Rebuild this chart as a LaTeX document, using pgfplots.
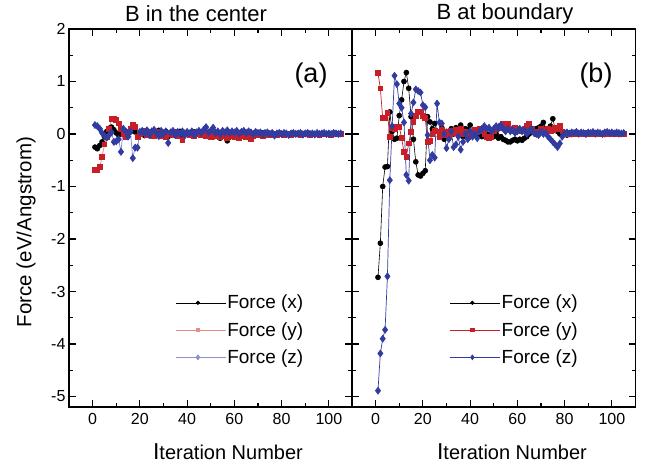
\documentclass[border=0pt]{standalone}
\usepackage{pgfplots}
\pgfplotsset{compat=1.18}
\usepackage{fontspec}
\setmainfont{Liberation Sans}
\definecolor{myred}{RGB}{200,30,40}
\definecolor{myblue}{RGB}{50,60,160}
\definecolor{palered}{RGB}{232,140,140}
\definecolor{paleblue}{RGB}{140,145,210}
\pgfplotsset{
  panel/.style={
    scale only axis, width=283.5pt, height=378pt, anchor=south west,
    xmin=-10, xmax=110, ymin=-5.2, ymax=2,
    xtick={0,20,...,100}, minor xtick={10,30,...,90},
    ytick={-5,...,2}, minor ytick={-4.5,-3.5,...,1.5},
    tick align=inside, major tick length=7pt, minor tick length=4pt,
    axis line style={line width=1.3pt},
    every tick/.style={line width=1.1pt, black},
    tick label style={font=\fontsize{16}{16}\selectfont},
    /pgf/number format/assume math mode=true,
    xticklabel style={yshift=-3pt},
    legend cell align=left,
    legend style={draw=none, fill=none, font=\fontsize{19}{19}\selectfont, anchor=north west,
      row sep=10pt, inner sep=0pt, nodes={inner sep=1pt}},
    legend image code/.code={
      \path (0pt,0pt) -- (50pt,0pt);
      \draw[#1, mark=none] (0pt,0pt) -- (15pt,0pt);
      \draw[#1, mark=none] (29pt,0pt) -- (44pt,0pt);
      \draw[#1, only marks, mark options={scale=0.7}] plot coordinates {(22pt,0pt)};
    },
  },
}
\begin{document}
\begin{tikzpicture}
\path[use as bounding box] (0pt,0pt) rectangle (649pt,473pt);
% ---------------- panel (a)
\begin{axis}[panel, at={(69pt,66pt)},
  ylabel={Force (eV/Angstrom)},
  ylabel style={font=\fontsize{20.5}{20.5}\selectfont, at={(-0.105,0.463)}},
  legend style={at={(0.375,0.299)}}]
\addplot[black, line width=0.6pt, mark=*, mark size=2.5pt] coordinates {
(1,-0.25)(2,-0.28)(3,-0.22)(4,-0.15)(5,-0.05)(6,0.05)(7,0.11)(8,0.13)(9,0.08)(10,0.02)
(11,-0.02)(12,0.05)(13,0.0)(14,-0.05)(15,0.02)(16,0.04)(17,0.08)(18,0.04)(19,0.0)(20,0.03)
(21,0.05)(22,-0.03)(23,0.06)(24,0.02)(25,-0.04)(26,0.05)(27,0.0)(28,0.07)(29,-0.02)(30,0.03)
(31,0.05)(32,-0.05)(33,0.02)(34,0.04)(35,-0.03)(36,0.02)(37,0.05)(38,-0.02)(39,0.03)(40,0.0)
(41,0.02)(42,-0.03)(43,0.04)(44,0.01)(45,0.05)(46,0.02)(47,-0.02)(48,0.03)(49,0.0)(50,-0.04)
(51,-0.06)(52,0.02)(53,-0.03)(54,-0.08)(55,0.02)(56,-0.05)(57,-0.13)(58,-0.06)(59,0.02)(60,-0.04)
(61,-0.02)(62,-0.05)(63,0.0)(64,0.03)(65,-0.02)(66,0.02)(67,0.0)(68,-0.03)(69,0.02)(70,0.01)
(71,-0.02)(72,0.02)(73,0.0)(74,-0.02)(75,0.01)(76,0.02)(77,-0.01)(78,0.0)(79,0.02)(80,-0.01)
(81,0.01)(82,0.0)(83,-0.01)(84,0.01)(85,0.0)(86,0.01)(87,-0.01)(88,0.0)(89,0.01)(90,0.0)
(91,-0.01)(92,0.01)(93,0.0)(94,0.01)(95,-0.01)(96,0.0)(97,0.01)(98,0.0)(99,-0.01)(100,0.01)
(101,0.0)(102,0.01)(103,0.0)(104,0.01)(105,0.0)};
\addlegendentry{Force (x)}
\addplot[palered, line width=0.8pt, mark=square*, mark size=2.4pt, mark options={myred, fill=myred}] coordinates {
(1,-0.69)(2,-0.68)(3,-0.63)(4,-0.44)(5,-0.20)(6,-0.05)(7,0.10)(8,0.28)(9,0.28)(10,0.27)
(11,0.20)(12,0.10)(13,0.0)(14,-0.05)(15,0.05)(16,0.10)(17,0.17)(18,0.14)(19,-0.05)(20,0.0)
(21,0.02)(22,0.06)(23,-0.02)(24,0.04)(25,0.0)(26,-0.04)(27,0.03)(28,0.05)(29,-0.03)(30,0.02)
(31,-0.05)(32,0.03)(33,0.0)(34,-0.02)(35,0.04)(36,-0.03)(37,0.02)(38,-0.11)(39,0.0)(40,0.03)
(41,-0.02)(42,0.02)(43,-0.04)(44,0.0)(45,0.03)(46,-0.02)(47,0.01)(48,-0.03)(49,0.02)(50,-0.05)
(51,0.0)(52,-0.04)(53,0.02)(54,-0.06)(55,-0.03)(56,0.0)(57,-0.07)(58,-0.03)(59,0.02)(60,-0.05)
(61,-0.02)(62,-0.08)(63,-0.03)(64,0.0)(65,-0.05)(66,-0.02)(67,-0.10)(68,-0.04)(69,0.0)(70,-0.02)
(71,0.01)(72,-0.03)(73,0.0)(74,-0.02)(75,0.01)(76,-0.01)(77,0.0)(78,-0.02)(79,0.01)(80,0.0)
(81,-0.01)(82,0.01)(83,0.0)(84,-0.01)(85,0.0)(86,0.01)(87,0.0)(88,-0.01)(89,0.0)(90,0.01)
(91,0.0)(92,-0.01)(93,0.0)(94,0.01)(95,0.0)(96,-0.01)(97,0.0)(98,0.0)(99,0.01)(100,0.0)
(101,-0.01)(102,0.0)(103,0.01)(104,0.0)(105,0.0)};
\addlegendentry{Force (y)}
\addplot[paleblue, line width=0.8pt, mark=diamond*, mark size=3.4pt, mark options={myblue, fill=myblue}] coordinates {
(1,0.17)(2,0.15)(3,0.10)(4,0.02)(5,-0.03)(6,-0.07)(7,-0.02)(8,0.03)(9,-0.15)(10,-0.14)
(11,-0.10)(12,-0.34)(13,0.10)(14,0.05)(15,-0.05)(16,0.05)(17,-0.46)(18,-0.26)(19,-0.26)(20,0.04)
(21,0.06)(22,0.02)(23,0.07)(24,-0.02)(25,0.05)(26,0.08)(27,0.02)(28,-0.04)(29,0.06)(30,0.0)
(31,0.05)(32,-0.17)(33,0.03)(34,0.06)(35,-0.02)(36,0.04)(37,0.0)(38,0.05)(39,-0.03)(40,0.04)
(41,0.01)(42,0.05)(43,-0.02)(44,0.03)(45,0.06)(46,0.02)(47,0.08)(48,0.13)(49,0.03)(50,0.06)
(51,0.12)(52,0.02)(53,0.05)(54,0.0)(55,0.06)(56,0.03)(57,0.07)(58,0.02)(59,0.05)(60,0.03)
(61,0.06)(62,0.01)(63,0.04)(64,0.06)(65,0.02)(66,0.05)(67,0.03)(68,0.0)(69,0.04)(70,0.02)
(71,0.03)(72,-0.01)(73,0.02)(74,0.03)(75,0.0)(76,0.02)(77,-0.03)(78,0.01)(79,0.02)(80,0.0)
(81,0.02)(82,0.01)(83,-0.02)(84,0.01)(85,0.02)(86,0.0)(87,0.01)(88,0.02)(89,-0.01)(90,0.01)
(91,0.02)(92,0.0)(93,0.01)(94,-0.01)(95,0.02)(96,0.0)(97,0.01)(98,0.02)(99,0.0)(100,0.01)
(101,0.0)(102,0.02)(103,0.01)(104,0.0)(105,0.01)};
\addlegendentry{Force (z)}
\end{axis}
% ---------------- panel (b)
\begin{axis}[panel, at={(352pt,66pt)}, yticklabels={},
  legend style={at={(0.345,0.299)}}]
\addplot[black, line width=0.6pt, mark=*, mark size=2.5pt] coordinates {
(1,-2.73)(2,-2.08)(3,-1.00)(4,-0.63)(5,-0.62)(6,0.42)(7,0.05)(8,-0.10)(9,-0.08)(10,0.35)
(11,0.65)(12,1.00)(13,1.17)(14,0.87)(15,0.33)(16,-0.10)(17,-0.53)(18,-0.78)(19,-0.80)(20,-0.75)
(21,-0.70)(22,0.33)(23,0.23)(24,0.10)(25,0.20)(26,0.05)(27,-0.05)(28,0.12)(29,-0.10)(30,0.05)
(31,-0.08)(32,0.10)(33,0.0)(34,0.12)(35,0.05)(36,0.17)(37,-0.05)(38,0.10)(39,0.08)(40,0.17)
(41,0.02)(42,0.05)(43,-0.02)(44,0.0)(45,-0.05)(46,0.03)(47,0.0)(48,-0.03)(49,0.02)(50,-0.05)
(51,0.0)(52,-0.08)(53,-0.05)(54,-0.10)(55,-0.12)(56,-0.15)(57,-0.15)(58,-0.12)(59,-0.10)(60,-0.13)
(61,-0.10)(62,-0.12)(63,-0.08)(64,-0.05)(65,0.0)(66,0.05)(67,0.08)(68,0.10)(69,0.12)(70,0.15)
(71,0.22)(72,0.10)(73,0.05)(74,0.15)(75,0.29)(76,0.10)(77,0.05)(78,0.0)(79,-0.02)(80,0.0)
(81,-0.02)(82,0.01)(83,-0.01)(84,0.0)(85,0.01)(86,-0.01)(87,0.0)(88,0.01)(89,-0.01)(90,0.0)
(91,0.01)(92,0.0)(93,-0.01)(94,0.01)(95,0.0)(96,0.01)(97,-0.01)(98,0.0)(99,0.01)(100,0.0)
(101,0.01)(102,0.0)(103,-0.01)(104,0.0)(105,0.0)};
\addlegendentry{Force (x)}
\addplot[myred, line width=0.7pt, mark=square*, mark size=2.4pt, mark options={myred, fill=myred}] coordinates {
(1,1.16)(2,0.87)(3,0.30)(4,0.30)(5,0.41)(6,-0.06)(7,0.11)(8,0.10)(9,0.14)(10,0.14)
(11,-0.08)(12,-0.34)(13,-0.43)(14,-0.18)(15,0.04)(16,0.23)(17,0.35)(18,0.42)(19,0.42)(20,0.35)
(21,0.30)(22,-0.15)(23,-0.13)(24,0.0)(25,0.07)(26,0.05)(27,-0.05)(28,0.08)(29,-0.02)(30,0.05)
(31,-0.03)(32,0.06)(33,0.02)(34,0.08)(35,-0.02)(36,0.10)(37,0.0)(38,0.05)(39,-0.05)(40,0.02)
(41,0.05)(42,0.08)(43,0.03)(44,0.10)(45,0.05)(46,0.0)(47,-0.05)(48,-0.08)(49,-0.05)(50,0.05)
(51,0.10)(52,0.12)(53,0.15)(54,0.19)(55,0.15)(56,0.19)(57,0.10)(58,0.05)(59,0.12)(60,0.10)
(61,0.08)(62,0.05)(63,0.10)(64,0.15)(65,0.20)(66,0.10)(67,0.05)(68,0.0)(69,0.05)(70,0.10)
(71,0.05)(72,0.08)(73,0.10)(74,0.05)(75,0.08)(76,0.12)(77,0.10)(78,0.15)(79,0.05)(80,0.02)
(81,0.01)(82,0.02)(83,0.0)(84,0.01)(85,0.02)(86,0.0)(87,0.01)(88,0.0)(89,0.02)(90,0.01)
(91,0.0)(92,0.01)(93,0.02)(94,0.0)(95,0.01)(96,0.0)(97,0.01)(98,0.02)(99,0.0)(100,0.01)
(101,0.0)(102,0.01)(103,0.0)(104,0.01)(105,0.0)};
\addlegendentry{Force (y)}
\addplot[myblue, line width=0.7pt, mark=diamond*, mark size=3.4pt, mark options={myblue, fill=myblue}] coordinates {
(1,-4.89)(2,-4.18)(3,-3.90)(4,-3.73)(5,-2.71)(6,-0.88)(7,0.15)(8,1.11)(9,0.95)(10,0.58)
(11,0.50)(12,0.22)(13,-0.78)(14,-0.89)(15,0.39)(16,0.60)(17,0.85)(18,0.82)(19,0.79)(20,0.55)
(21,0.51)(22,-0.02)(23,-0.50)(24,-0.40)(25,-0.45)(26,0.58)(27,0.22)(28,0.20)(29,0.0)(30,-0.27)
(31,-0.10)(32,0.05)(33,-0.25)(34,-0.20)(35,-0.05)(36,-0.30)(37,-0.15)(38,0.0)(39,-0.10)(40,0.05)
(41,-0.05)(42,0.0)(43,-0.08)(44,0.05)(45,0.10)(46,0.15)(47,0.10)(48,0.12)(49,0.05)(50,0.10)
(51,0.15)(52,0.10)(53,0.17)(54,0.10)(55,0.05)(56,0.10)(57,0.05)(58,0.08)(59,0.02)(60,0.05)
(61,0.10)(62,0.05)(63,0.08)(64,0.0)(65,0.05)(66,0.10)(67,0.02)(68,0.0)(69,-0.02)(70,0.05)
(71,0.0)(72,0.02)(73,-0.05)(74,-0.10)(75,-0.15)(76,-0.20)(77,-0.25)(78,-0.18)(79,-0.05)(80,0.02)
(81,0.03)(82,0.01)(83,0.03)(84,0.02)(85,0.04)(86,0.01)(87,0.03)(88,0.02)(89,0.0)(90,0.03)
(91,0.02)(92,0.04)(93,0.01)(94,0.03)(95,0.02)(96,0.0)(97,0.03)(98,0.04)(99,0.02)(100,0.03)
(101,0.01)(102,0.03)(103,0.02)(104,0.01)(105,0.02)};
\addlegendentry{Force (z)}
\end{axis}
% ---------------- texts
\node[font=\fontsize{22}{22}\selectfont] at (196pt,459pt) {B in the center};
\node[font=\fontsize{22}{22}\selectfont] at (505pt,459pt) {B at boundary};
\node[font=\fontsize{20}{20}\selectfont] at (228pt,21pt) {{\fontsize{23}{23}\selectfont I}teration Number};
\node[font=\fontsize{20}{20}\selectfont] at (512pt,21pt) {{\fontsize{23}{23}\selectfont I}teration Number};
\node[font=\fontsize{27}{27}\selectfont] at (311pt,397pt) {(a)};
\node[font=\fontsize{27}{27}\selectfont] at (596pt,397pt) {(b)};
\end{tikzpicture}
\end{document}
